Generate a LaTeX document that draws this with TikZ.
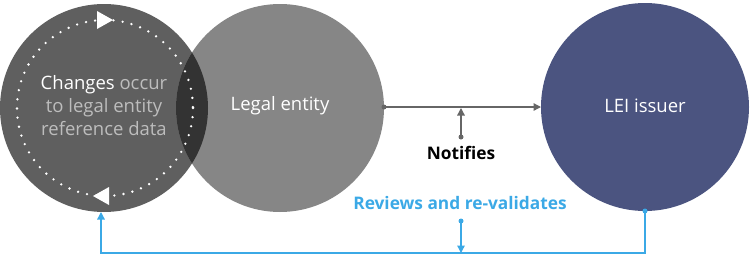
\documentclass[tikz,border=0pt]{standalone}
\usepackage{fontspec}
\setmainfont{Open Sans}
\usetikzlibrary{arrows.meta}
\definecolor{cA}{HTML}{5F5F5F}
\definecolor{cB}{HTML}{868686}
\definecolor{cAB}{HTML}{333333}
\definecolor{cLEI}{HTML}{4B5480}
\definecolor{cBlue}{HTML}{3BA9E6}
\definecolor{cArr}{HTML}{666666}
\definecolor{cTxt}{HTML}{BDBDBD}
\tikzset{
  lbl/.style={font=\fontsize{18.5}{23}\selectfont, align=center, inner sep=0pt},
  blbl/.style={font=\fontsize{17.3}{20}\selectfont\bfseries, align=center, inner sep=0pt},
  garrow/.style={draw=cArr, line width=1.3pt, -{Triangle[length=7.5pt,width=7.5pt]}},
  barrow/.style={draw=cBlue, line width=1.3pt, -{Triangle[length=7.5pt,width=7.5pt]}},
  dotend/.style={circle, fill=#1, minimum size=5pt, inner sep=0pt},
}
\begin{document}
\begin{tikzpicture}[x=1pt,y=-1pt]
\useasboundingbox (0,0) rectangle (750,258);
% circles
\fill[cA] (104,108) circle (104);
\fill[cB] (280,108) circle (104);
\begin{scope}
  \clip (104,108) circle (104);
  \fill[cAB] (280,108) circle (104);
\end{scope}
\fill[cLEI] (645,107) circle (104);
% dotted cycle
\draw[white, line width=2.6pt, line cap=round, dash pattern=on 0pt off 9.2pt] (105,108) circle (88);
\fill[white] (113,20) -- (97,11) -- (97,29) -- cycle;
\fill[white] (93,196) -- (109,187) -- (109,205) -- cycle;
% labels
\node[lbl, text=cTxt] (chg) at (104,106) {\textcolor{white}{Changes} occur\\to legal entity\\reference data};
\node[lbl, text=white] (le) at (280,106) {Legal entity};
\node[lbl, text=white] (lei) at (645,106) {LEI issuer};
\node[blbl, text=black] (notif) at (461,153) {Notifies};
\node[blbl, text=cBlue] (rev) at (460,203) {Reviews and re-validates};
% notify connector
\coordinate (ls) at (384,107);
\coordinate (le2) at (541,107);
\node[dotend=cArr] (d1) at (ls) {};
\draw[garrow] (ls) -- (le2);
\coordinate (nb) at (461,137);
\coordinate (nt) at (461,108);
\node[dotend=cArr] (d2) at (nb) {};
\draw[garrow] (nb) -- (nt);
% review connector
\coordinate (rs) at (645,211);
\coordinate (c1) at (645,253);
\coordinate (c2) at (101,253);
\coordinate (re) at (101,212);
\node[dotend=cBlue] (d3) at (rs) {};
\draw[barrow] (rs) -- (c1) -- (c2) -- (re);
\coordinate (rb) at (461,221);
\coordinate (rt) at (461,253);
\node[dotend=cBlue] (d4) at (rb) {};
\draw[barrow] (rb) -- (rt);
\end{tikzpicture}
\end{document}
